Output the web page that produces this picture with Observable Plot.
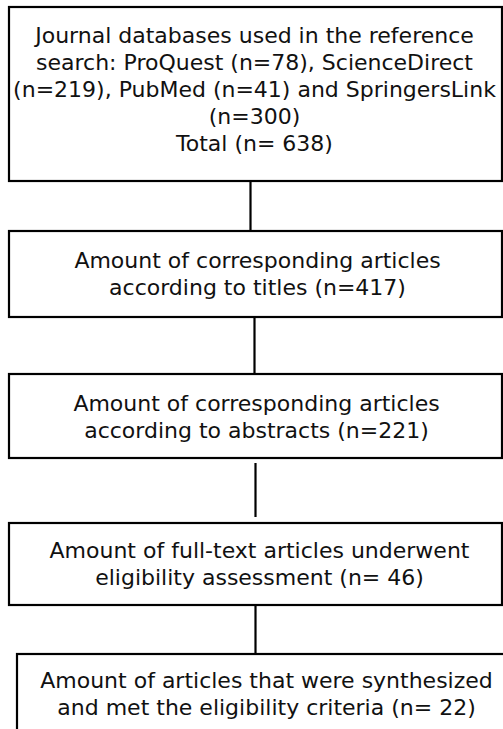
<!DOCTYPE html>
<html>
<head>
<meta charset="utf-8">
<script src="https://cdn.jsdelivr.net/npm/d3@7"></script>
<script src="https://cdn.jsdelivr.net/npm/@observablehq/plot@0.6"></script>
<style>
  html, body { margin: 0; padding: 0; background: #fff; }
  #chart svg { display: block; }
</style>
</head>
<body>
<div id="chart"></div>
<script>
// ---- data ----
const databases = ["ProQuest", "ScienceDirect", "PubMed", "SpringersLink"];
const databaseCounts = [78, 219, 41, 300];
const stageCounts = [638, 417, 221, 46, 22];
const stageLabels = [
  `Journal databases used in the reference\nsearch: ${databases[0]} (n=${databaseCounts[0]}), ${databases[1]}\n(n=${databaseCounts[1]}), ${databases[2]} (n=${databaseCounts[2]}) and ${databases[3]}\n(n=${databaseCounts[3]})\nTotal (n= ${stageCounts[0]})`,
  `Amount of corresponding articles\naccording to titles (n=${stageCounts[1]})`,
  `Amount of corresponding articles\naccording to abstracts (n=${stageCounts[2]})`,
  `Amount of full-text articles underwent\neligibility assessment (n= ${stageCounts[3]})`,
  `Amount of articles that were synthesized\nand met the eligibility criteria (n= ${stageCounts[4]})`
];

// ---- layout (diagram geometry) ----
const boxLeft = [9, 9, 9, 9, 17];
const boxRight = [502, 502, 502, 502, 530];
const boxTop = [7, 231, 374, 523, 654];
const boxBottom = [181, 317, 458, 605, 760];
const textY = [87.5, 272, 415, 562.5, 692.5];
const textX = [254, 257, 256, 259, 266];
const linkX = [250, 254, 255, 255];
const linkTop = [181, 317, 463, 600];
const linkBottom = [231, 374, 517, 654];

const boxes = stageLabels.map((label, i) => ({
  label, x1: boxLeft[i], x2: boxRight[i], y1: boxTop[i], y2: boxBottom[i], tx: textX[i], ty: textY[i]
}));
const links = linkX.map((x, i) => ({x, y1: linkTop[i], y2: linkBottom[i]}));

const W = 503, H = 729;
const chart = Plot.plot({
  width: W, height: H,
  margin: 0,
  x: {domain: [0, W], range: [0, W], axis: null},
  y: {domain: [0, H], range: [0, H], axis: null},
  style: {fontFamily: "DejaVu Sans", background: "#fff"},
  marks: [
    Plot.ruleX(links, {x: "x", y1: "y1", y2: "y2", stroke: "#000", strokeWidth: 2.2}),
    Plot.rect(boxes, {x1: "x1", x2: "x2", y1: "y1", y2: "y2", fill: "#fff", stroke: "#000", strokeWidth: 2.2}),
    Plot.text(boxes, {x: "tx", y: "ty", text: "label", fontSize: 22, lineHeight: 1.225, fill: "#111", textAnchor: "middle", lineAnchor: "middle"})
  ]
});
document.getElementById("chart").appendChild(chart);
</script>
</body>
</html>
